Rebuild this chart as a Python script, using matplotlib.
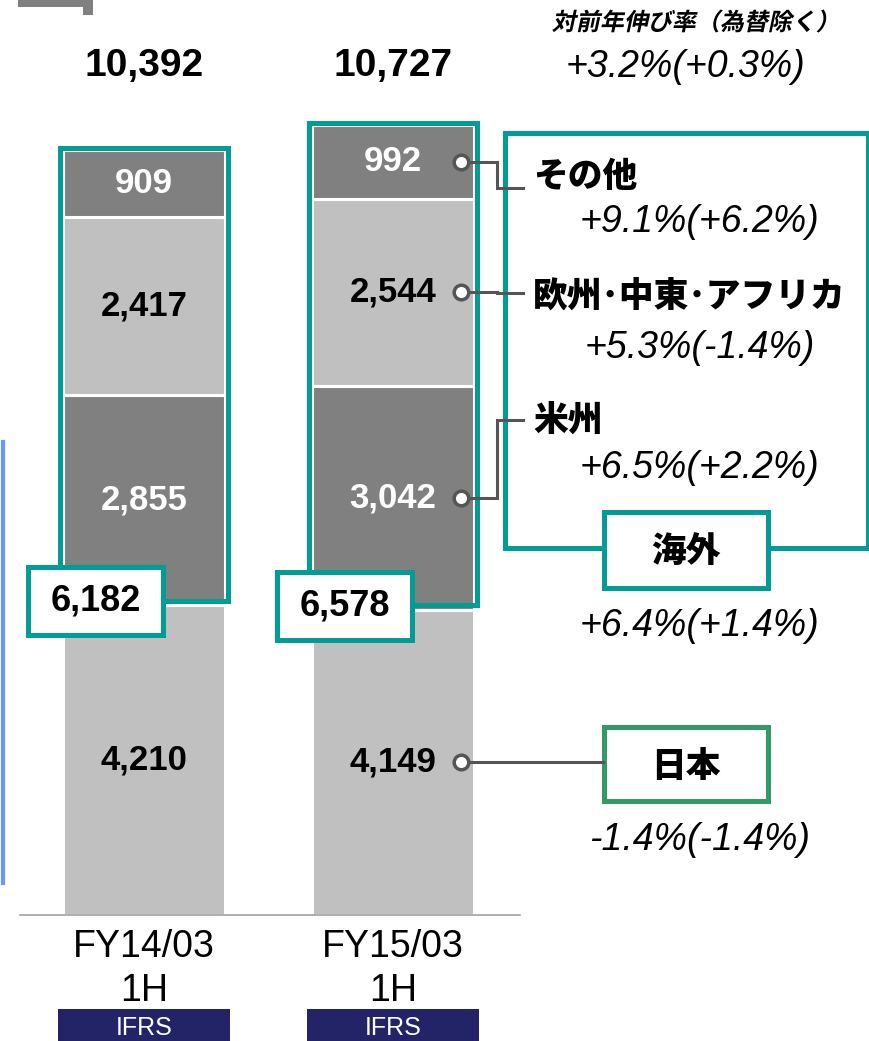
import matplotlib
matplotlib.use('Agg')
import matplotlib.pyplot as plt
import matplotlib.transforms as mtransforms
from matplotlib.patches import Rectangle, PathPatch
from matplotlib.textpath import TextPath
from matplotlib.font_manager import FontProperties

# Revenue by region (100 million yen)
periods = ['FY14/03\n1H', 'FY15/03\n1H']
japan = [4210, 4149]
americas = [2855, 3042]
emea = [2417, 2544]
others = [909, 992]
overseas = [6182, 6578]
totals = [10392, 10727]

region_names = ['その他', '欧州･中東･アフリカ', '米州']
region_growth = ['+9.1%(+6.2%)', '+5.3%(-1.4%)', '+6.5%(+2.2%)']
overseas_growth = '+6.4%(+1.4%)'
japan_growth = '-1.4%(-1.4%)'
total_growth = '+3.2%(+0.3%)'
growth_title = '対前年伸び率（為替除く）'

DARK = '#808080'
LIGHT = '#C0C0C0'
TEAL = '#009C95'
GREEN = '#339966'
NAVY = '#232468'
LINE = '#555555'
NUM_FONT = 'Liberation Sans'
JP_FONT = ['Noto Sans CJK JP', 'DejaVu Sans']

W, H = 870, 1041
fig = plt.figure(figsize=(W / 100, H / 100), dpi=100)

# main bar axes: baseline sits 915 px from the top
ax = fig.add_axes([20 / W, (H - 915) / H, 500 / W, 915 / H])
ax.set_xlim(-0.498, 1.51)
ax.set_ylim(0, 915 / 0.0736)
for side in ['top', 'right', 'left']:
    ax.spines[side].set_visible(False)
ax.spines['bottom'].set_color('#999999')
ax.spines['bottom'].set_linewidth(1.1)
ax.set_yticks([])
ax.set_xticks([0, 1], periods, fontsize=27, fontfamily=NUM_FONT, linespacing=1.3)
ax.tick_params(axis='x', length=0, pad=10)

# overlay in pixel units for callouts and boxes
ov = fig.add_axes([0, 0, 1, 1], zorder=5)
ov.set_xlim(0, W)
ov.set_ylim(H, 0)
ov.axis('off')
ov.patch.set_alpha(0)


def to_px(xd, yd):
    return ov.transData.inverted().transform(ax.transData.transform((xd, yd)))


xs = [0, 1]
width = 0.648
segments = [(japan, LIGHT, 'black'), (americas, DARK, 'white'),
            (emea, LIGHT, 'black'), (others, DARK, 'white')]
bottom = [0, 0]
mids = []
for vals, color, tcolor in segments:
    ax.bar(xs, vals, width, bottom=bottom, color=color, edgecolor='white', linewidth=2.2)
    for i in xs:
        ax.text(i, bottom[i] + vals[i] / 2, f'{vals[i]:,}', ha='center', va='center',
                color=tcolor, fontsize=25, fontweight='bold', fontfamily=NUM_FONT)
    mids.append(bottom[1] + vals[1] / 2)
    bottom = [b + v for b, v in zip(bottom, vals)]

for i in xs:
    left, base = to_px(i - width / 2, japan[i])
    right, top = to_px(i + width / 2, japan[i] + overseas[i])
    # teal frame around the overseas part of the bar
    ov.add_patch(Rectangle((left - 3, top - 2.5), right - left + 6, base - top - 2,
                           fill=False, edgecolor=TEAL, linewidth=3.6))
    # overseas subtotal box
    ov.add_patch(Rectangle((left - 35, base - 38), 135, 68, facecolor='white',
                           edgecolor=TEAL, linewidth=3.6))
    ov.text(left + 32.5, base - 4, f'{overseas[i]:,}', ha='center', va='center',
            fontsize=26, fontweight='bold', fontfamily=NUM_FONT)
    # grand total above each bar
    cx, _ = to_px(i, 0)
    ov.text(cx, 66, f'{totals[i]:,}', ha='center', va='center',
            fontsize=28, fontweight='bold', fontfamily=NUM_FONT)
    # accounting standard tag
    ov.add_patch(Rectangle((cx - 86, 1009), 172, 40, facecolor=NAVY, edgecolor='none'))
    ov.text(cx, 1028, 'IFRS', ha='center', va='center', color='white',
            fontsize=18, fontfamily=NUM_FONT)

# callouts from the latest bar
bar_right, _ = to_px(1 + width / 2, 0)
dot_x = bar_right - 13
dot_ys = [to_px(1, m)[1] for m in mids]
jp_y, am_y, emea_y, oth_y = dot_ys

ov.add_patch(Rectangle((505, 133), 363, 415, fill=False, edgecolor=TEAL, linewidth=3.6))

line_ys = [188, 293, 420]
text_ys = [177, 297, 421]
growth_ys = [222, 348, 468]
for src, ly, ty, gy, name, growth in zip([oth_y, emea_y, am_y], line_ys, text_ys,
                                         growth_ys, region_names, region_growth):
    ov.plot([dot_x, 497, 497, 523], [src, src, ly, ly], color=LINE, linewidth=2.2,
            solid_joinstyle='miter')
    ov.text(533, ty, name, ha='left', va='center', fontsize=25, fontweight='black',
            family=JP_FONT)
    ov.text(700, gy, growth, ha='center', va='center', fontsize=27, style='italic',
            fontfamily=NUM_FONT)

ov.plot([dot_x, 603], [jp_y, jp_y], color=LINE, linewidth=2.2)
ov.plot([dot_x] * 4, dot_ys, linestyle='none', marker='o', markersize=10.5,
        markerfacecolor='white', markeredgecolor=LINE, markeredgewidth=2.5)

ov.add_patch(Rectangle((604, 512), 164, 76, facecolor='white', edgecolor=TEAL, linewidth=3.6))
ov.text(686, 551, '海外', ha='center', va='center', fontsize=25, fontweight='black',
        family=JP_FONT)
ov.text(700, 626, overseas_growth, ha='center', va='center', fontsize=27, style='italic',
        fontfamily=NUM_FONT)

ov.add_patch(Rectangle((604, 727), 164, 74, facecolor='white', edgecolor=GREEN, linewidth=3.6))
ov.text(686, 766, '日本', ha='center', va='center', fontsize=25, fontweight='black',
        family=JP_FONT)
ov.text(700, 840, japan_growth, ha='center', va='center', fontsize=27, style='italic',
        fontfamily=NUM_FONT)

# overall growth header, slanted bold
title_path = TextPath((0, 0), growth_title, size=24,
                      prop=FontProperties(family='Noto Sans CJK JP', weight='bold'))
ext = title_path.get_extents()
slant = (mtransforms.Affine2D()
         .translate(-(ext.x0 + ext.x1) / 2, -(ext.y0 + ext.y1) / 2)
         .skew_deg(12, 0)
         .scale(1, -1)
         .translate(690, 21))
ov.add_patch(PathPatch(title_path, transform=slant + ov.transData,
                       facecolor='black', edgecolor='none'))
ov.text(686, 67, total_growth, ha='center', va='center', fontsize=27, style='italic',
        fontfamily=NUM_FONT)

# heading marker and side rule
ov.add_patch(Rectangle((18, 0), 66, 7, facecolor='#808080', edgecolor='none'))
ov.add_patch(Rectangle((83, 0), 10, 15, facecolor='#808080', edgecolor='none'))
ov.plot([3, 3], [442, 883], color='#6699FF', linewidth=3)

fig.savefig('out.png', dpi=100)
